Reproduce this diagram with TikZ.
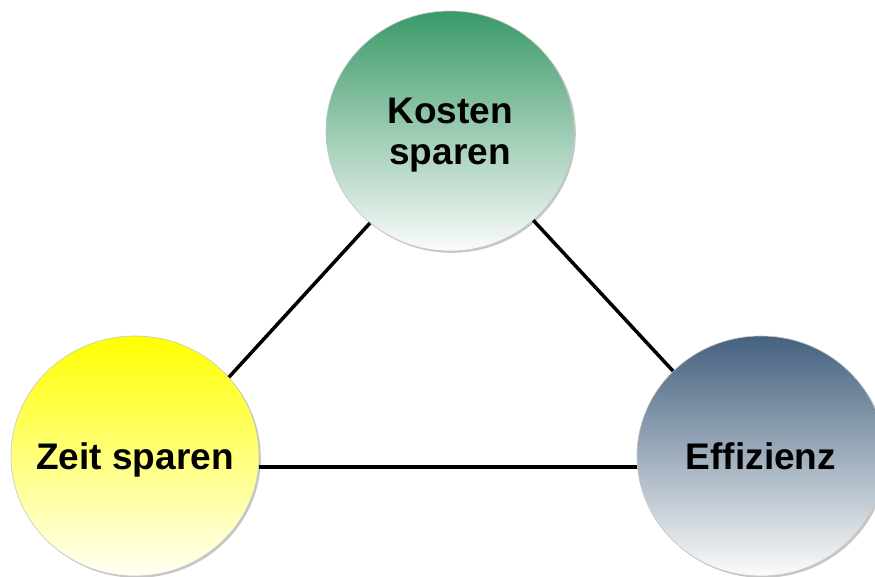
\documentclass[tikz,border=0pt]{standalone}
\usepackage{fontspec}
\setmainfont{Liberation Sans}
\usepackage{tikz}
\usetikzlibrary{positioning, shapes.geometric, shadows}
\usepackage{xcolor}

\definecolor{kostengreen}{RGB}{58,154,104}
\definecolor{zeityellow}{RGB}{255,255,0}
\definecolor{effblue}{RGB}{68,97,127}

\begin{document}
\begin{tikzpicture}[
    x=1pt, y=1pt,
    every node/.style={font=\fontsize{37}{41}\selectfont\bfseries},
    bubble/.style={ellipse, draw=gray!45, line width=0.6pt, minimum width=248pt, minimum height=240pt,
        inner xsep=-30pt, inner ysep=0pt, text depth=0pt, align=center,
        drop shadow={shadow xshift=1.8pt, shadow yshift=-1.8pt, opacity=0.45}},
    line/.style={line width=3.5pt}
]
\useasboundingbox (0,0) rectangle (875,576);
\node[bubble, top color=kostengreen, bottom color=white!97!gray] (K) at (450,445) {Kosten\\sparen};
\node[bubble, top color=zeityellow, bottom color=yellow!4!white] (Z) at (135,120) {Zeit sparen};
\node[bubble, top color=effblue, bottom color=white!97!gray, on grid, right=626pt of Z] (E) {Effizienz};
\draw[line] (K.229) -- (Z.40);
\draw[line] (K.313) -- (E.136);
\draw[line] (Z.355) -- (E.185);
\end{tikzpicture}
\end{document}
